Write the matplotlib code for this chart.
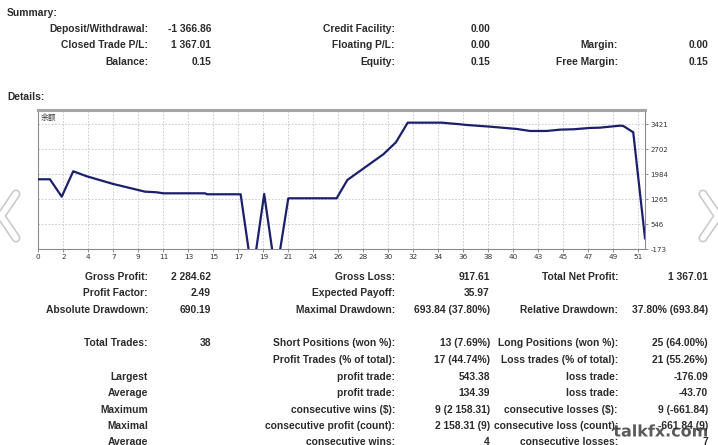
import numpy as np
import matplotlib
matplotlib.use("Agg")
import matplotlib.pyplot as plt
import matplotlib.patheffects as pe

# ---------------- data ----------------
summary_rows = [
    ("Deposit/Withdrawal:", "-1 366.86", "Credit Facility:", "0.00", "", ""),
    ("Closed Trade P/L:", "1 367.01", "Floating P/L:", "0.00", "Margin:", "0.00"),
    ("Balance:", "0.15", "Equity:", "0.15", "Free Margin:", "0.15"),
]
detail_rows = [
    ("Gross Profit:", "2 284.62", "Gross Loss:", "917.61", "Total Net Profit:", "1 367.01"),
    ("Profit Factor:", "2.49", "Expected Payoff:", "35.97", "", ""),
    ("Absolute Drawdown:", "690.19", "Maximal Drawdown:", "693.84 (37.80%)",
     "Relative Drawdown:", "37.80% (693.84)"),
]
trade_rows = [
    ("Total Trades:", "38", "Short Positions (won %):", "13 (7.69%)",
     "Long Positions (won %):", "25 (64.00%)"),
    ("", "", "Profit Trades (% of total):", "17 (44.74%)",
     "Loss trades (% of total):", "21 (55.26%)"),
    ("Largest", "", "profit trade:", "543.38", "loss trade:", "-176.09"),
    ("Average", "", "profit trade:", "134.39", "loss trade:", "-43.70"),
    ("Maximum", "", "consecutive wins ($):", "9 (2 158.31)",
     "consecutive losses ($):", "9 (-661.84)"),
    ("Maximal", "", "consecutive profit (count):", "2 158.31 (9)",
     "consecutive loss (count):", "-661.84 (9)"),
    ("Average", "", "consecutive wins:", "4", "consecutive losses:", "7"),
]

# balance curve (x in axis units, y = balance)
bal_x = [0, 0.99, 1.99, 2.97, 4.11, 6.37, 9.07, 10.06, 10.62, 14.17, 14.34, 17.2,
         18.2, 19.2, 20.2, 21.25, 25.36, 26.27, 29.33, 30.4, 31.4, 34.3, 35.84,
         36.4, 38.4, 40.66, 41.8, 43.2, 44.35, 45.5, 46.9, 47.75, 49.44, 49.72,
         50.57, 51.57]
bal_y = [1840, 1840, 1340, 2070, 1927, 1705, 1484, 1466, 1437, 1437, 1409, 1409,
         -940, 1417, -940, 1294, 1294, 1820, 2559, 2904, 3468, 3468, 3422,
         3402, 3353, 3287, 3229, 3229, 3267, 3278, 3316, 3324, 3382, 3373,
         3192, 143]
x_tick_labels = ["0", "2", "4", "7", "9", "11", "13", "15", "17", "19", "21", "24",
                 "26", "28", "30", "32", "34", "36", "38", "40", "43", "45", "47",
                 "49", "51"]
y_ticks = [-173, 546, 1265, 1984, 2702, 3421]

# ---------------- figure ----------------
W, H = 718, 445
fig = plt.figure(figsize=(W / 100, H / 100), dpi=100)
fig.patch.set_facecolor("white")

TXT = "#2b2b2b"
FONT = "Liberation Sans"
FS = 7.4


def T(x, y, s, ha="right", **kw):
    if not s:
        return
    fig.text(x / W, 1 - y / H, s, ha=ha, va="center", fontsize=kw.pop("fs", FS),
             fontweight=kw.pop("weight", "bold"), color=kw.pop("color", TXT),
             family=kw.pop("family", FONT), **kw)


cols = [148, 211, 395, 490, 618, 708]


def rows(data, ys):
    for row, y in zip(data, ys):
        for txt, x in zip(row, cols):
            T(x, y, txt)


T(7, 13, "Summary:", ha="left")
rows(summary_rows, [29, 45.5, 62])
T(7, 97, "Details:", ha="left")
rows(detail_rows, [276.7, 293.3, 310])
rows(trade_rows, [343.3, 360, 376.7, 393.3, 409.6, 426, 442])

# ---------------- chart ----------------
x0, x1, yt, yb = 38.3, 645, 110, 249.3
ax = fig.add_axes([x0 / W, 1 - yb / H, (x1 - x0) / W, (yb - yt) / H])
ax.set_facecolor("white")
ax.plot(bal_x, bal_y, color="#1c1f6b", lw=1.6, solid_joinstyle="round", zorder=3)
ax.set_xlim(0, 51.57)
ax.set_ylim(-173, 3832)

xt = np.linspace(0, 51, len(x_tick_labels))
ax.set_xticks(xt)
ax.set_xticklabels(x_tick_labels)
ax.set_yticks(y_ticks)
ax.set_yticklabels([str(v) for v in y_ticks])
ax.yaxis.tick_right()
ax.tick_params(axis="x", length=2, width=0.6, color="#808080", pad=1.5,
               labelsize=5.2, labelcolor="#333333")
ax.tick_params(axis="y", length=2, width=0.6, color="#808080", pad=2.0,
               labelsize=5.0, labelcolor="#333333")
for lab in ax.get_xticklabels() + ax.get_yticklabels():
    lab.set_family("DejaVu Sans")
ax.grid(True, color="#c4c4c4", lw=0.6, ls=(0, (2, 2)))
ax.set_axisbelow(True)
ax.spines["top"].set_color("#a6a6a6")
ax.spines["top"].set_linewidth(2.2)
for s in ("left", "right", "bottom"):
    ax.spines[s].set_color("#8a8a8a")
    ax.spines[s].set_linewidth(0.8)
ax.text(0.004, 0.94, "余额", transform=ax.transAxes, fontsize=5.6, color="#333333",
        family=["Noto Sans CJK SC", "DejaVu Sans"], ha="left", va="center")

# ---------------- decorations ----------------
deco = fig.add_axes([0, 0, 1, 1], facecolor="none")
deco.set_xlim(0, W)
deco.set_ylim(H, 0)
deco.axis("off")
chev_pe = [pe.Stroke(linewidth=6.5, foreground="#c9c9c9"), pe.Normal()]
deco.plot([16, 1, 16], [194, 216, 238], color="white", lw=4.2,
          solid_capstyle="round", solid_joinstyle="round", path_effects=chev_pe)
deco.plot([703, 718, 703], [194, 216, 238], color="white", lw=4.2,
          solid_capstyle="round", solid_joinstyle="round", path_effects=chev_pe)
deco.text(661, 432, "talkfx.com", ha="center", va="center", fontsize=11.5,
          fontweight="bold", color="#5a5a5a", family="DejaVu Sans",
          path_effects=[pe.withStroke(linewidth=2, foreground="white")])

fig.savefig("out.png", dpi=100, facecolor="white")
